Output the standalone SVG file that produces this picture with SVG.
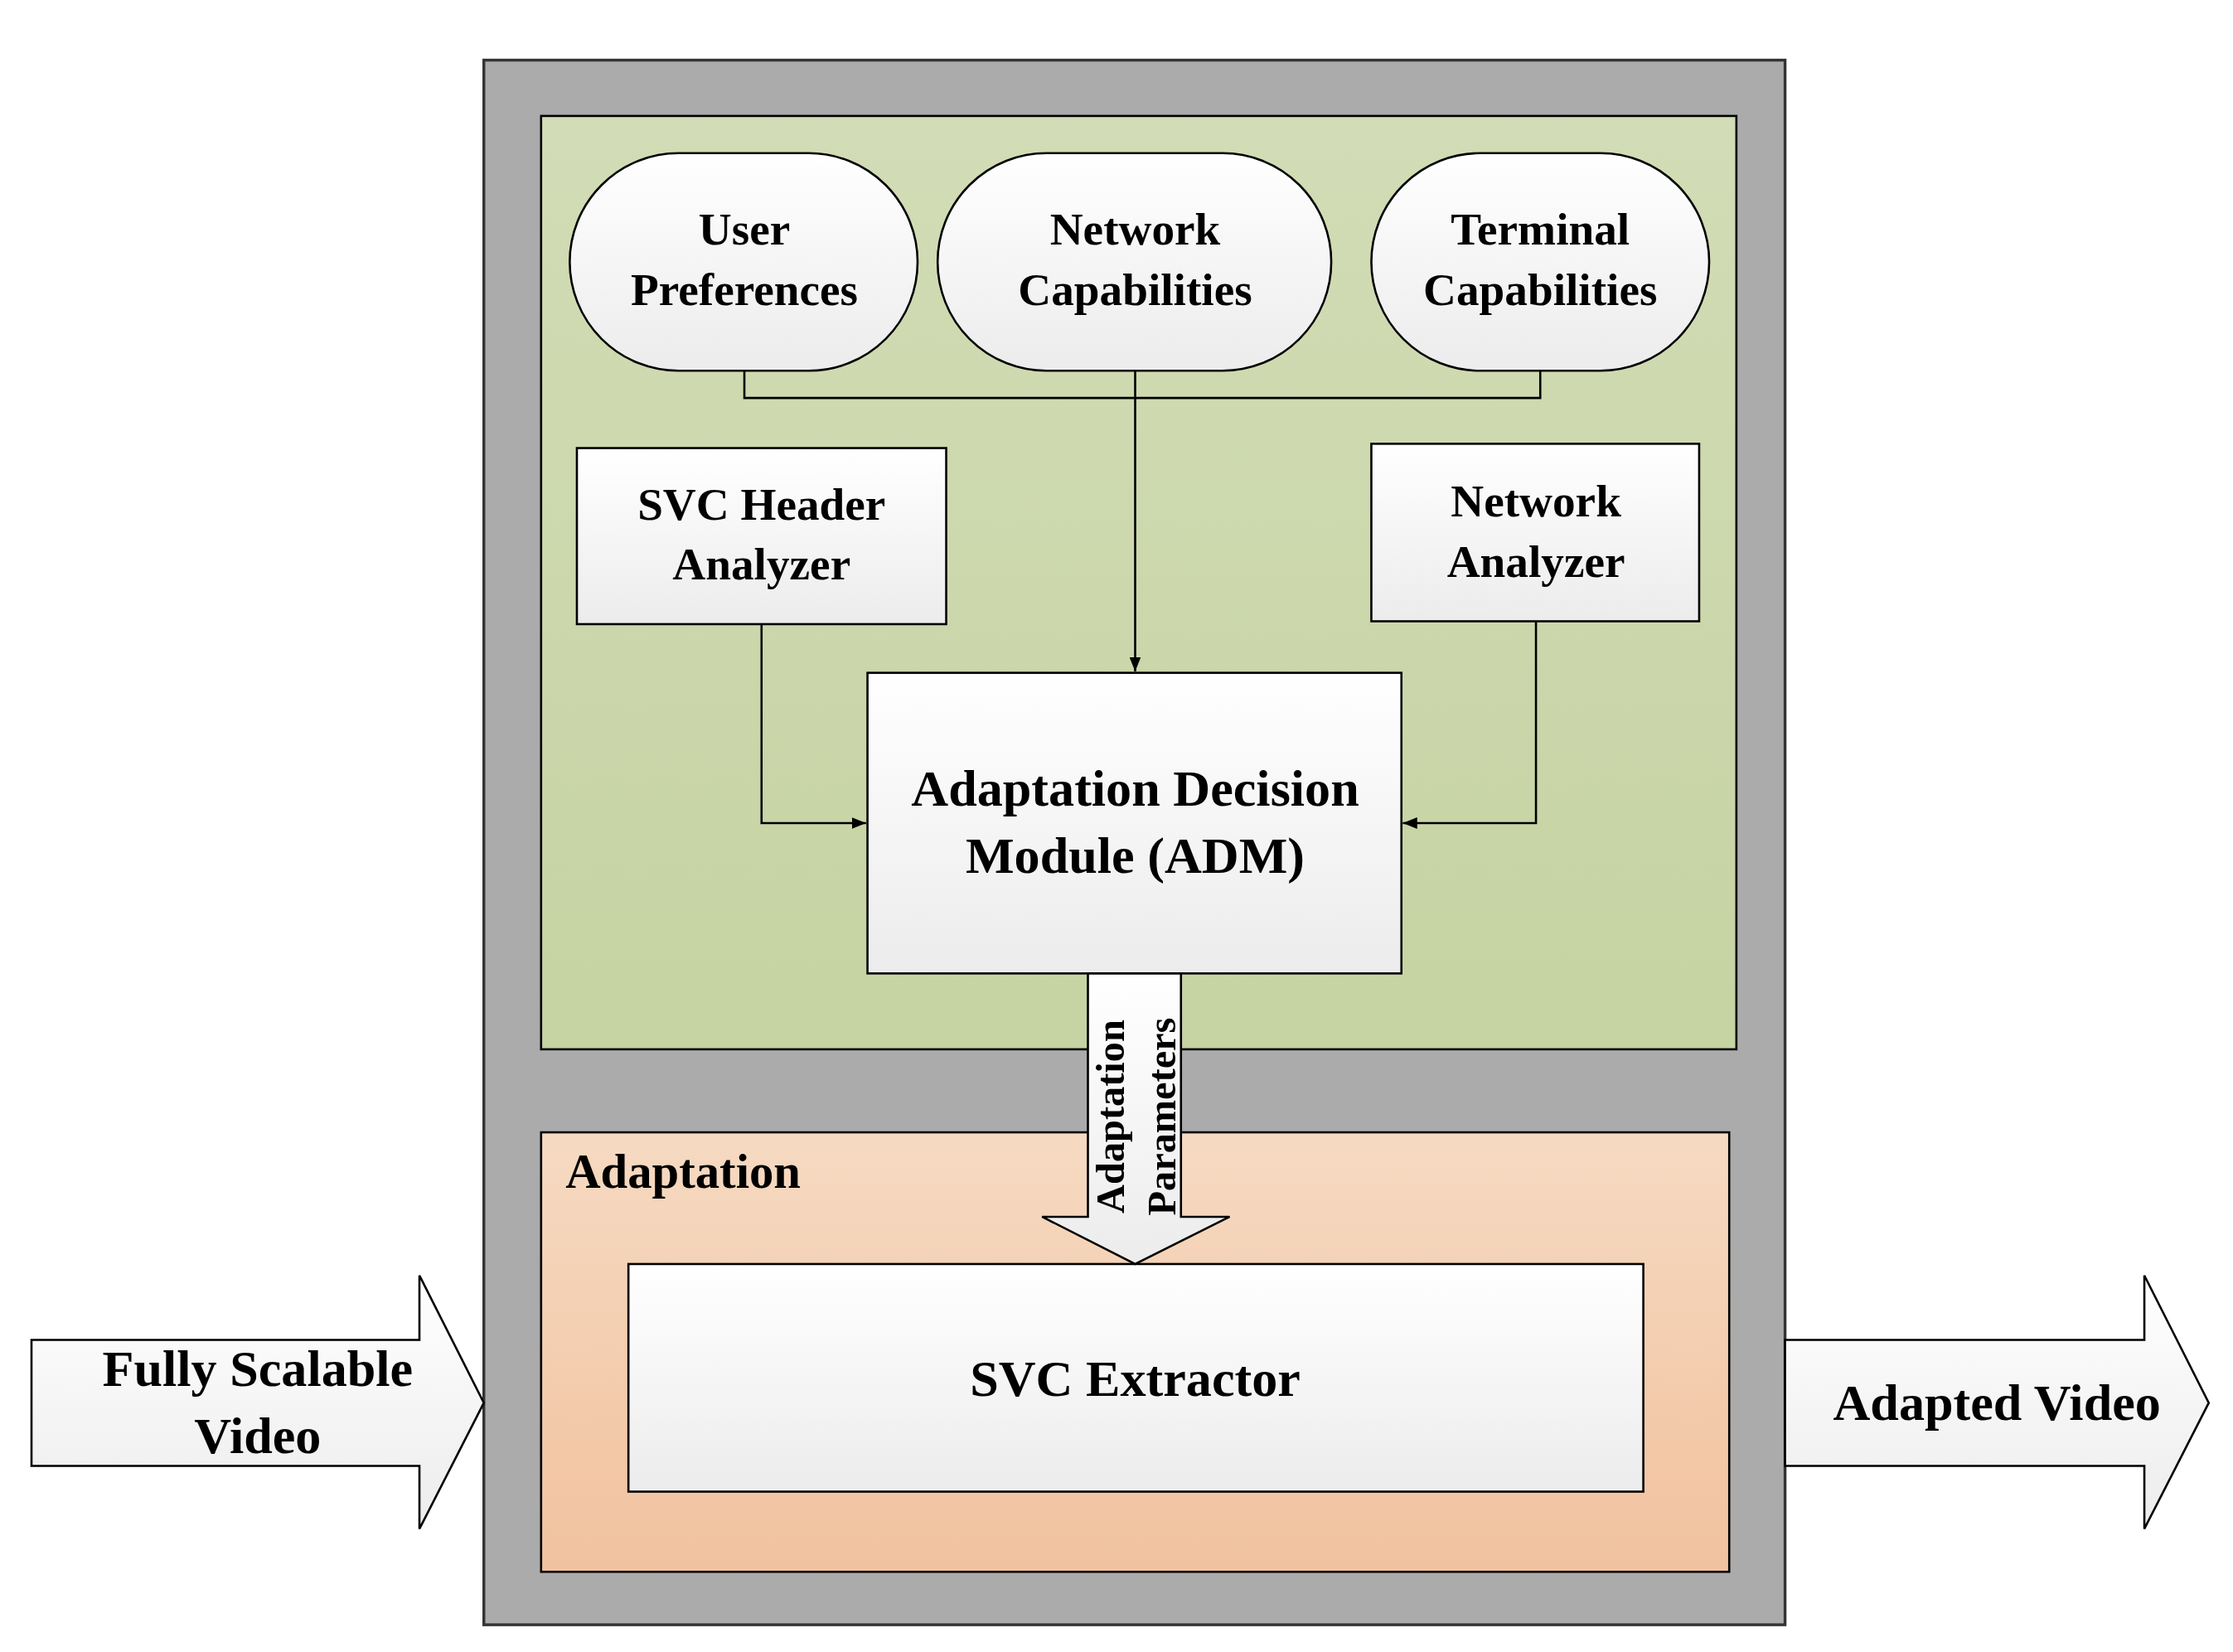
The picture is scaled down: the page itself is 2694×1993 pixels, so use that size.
<svg xmlns="http://www.w3.org/2000/svg" width="2694" height="1993" viewBox="0 0 2694 1993">
<defs>
<linearGradient id="wg" x1="0" y1="0" x2="0" y2="1"><stop offset="0" stop-color="#ffffff"/><stop offset="1" stop-color="#ececec"/></linearGradient>
<linearGradient id="gg" x1="0" y1="0" x2="0" y2="1"><stop offset="0" stop-color="#d2dcb6"/><stop offset="1" stop-color="#c6d3a2"/></linearGradient>
<linearGradient id="og" x1="0" y1="0" x2="0" y2="1"><stop offset="0" stop-color="#f6dac2"/><stop offset="1" stop-color="#f1c29e"/></linearGradient>
<marker id="ah" markerWidth="10" markerHeight="8" refX="10" refY="4" orient="auto" markerUnits="userSpaceOnUse"><path d="M0,0 L10,4 L0,8 Z" fill="#000"/></marker>
</defs>
<style>
.n{fill:url(#wg);stroke:#000;stroke-width:1.5}
.t{font-family:"Liberation Serif",serif;font-weight:bold;font-size:32px;text-anchor:middle;fill:#000}
.c{fill:none;stroke:#000;stroke-width:1.5}
</style>
<rect width="2694" height="1993" fill="#fff"/>
<g transform="scale(1.727)">
<g id="outer"><rect x="338" y="42" width="909" height="1093" fill="#ababab" stroke="#333" stroke-width="2"/></g>
<g id="green"><rect x="378" y="81" width="835" height="652" fill="url(#gg)" stroke="#000" stroke-width="1.5"/></g>
<g id="adaptation"><rect x="378" y="791" width="830" height="307" fill="url(#og)" stroke="#000" stroke-width="1.5"/>
<text x="395" y="830" class="t" style="text-anchor:start;font-size:34px">Adaptation</text></g>
<g id="user"><rect x="398" y="107" width="243" height="152" rx="76" class="n"/><text class="t" x="520" y="171">User</text><text class="t" x="520" y="213">Preferences</text></g>
<g id="netcap"><rect x="655" y="107" width="275" height="152" rx="76" class="n"/><text class="t" x="793" y="171">Network</text><text class="t" x="793" y="213">Capabilities</text></g>
<g id="termcap"><rect x="958" y="107" width="236" height="152" rx="76" class="n"/><text class="t" x="1076" y="171">Terminal</text><text class="t" x="1076" y="213">Capabilities</text></g>
<g id="svch"><rect x="403" y="313" width="258" height="123" class="n"/><text class="t" x="532" y="363">SVC Header</text><text class="t" x="532" y="405">Analyzer</text></g>
<g id="neta"><rect x="958" y="310" width="229" height="124" class="n"/><text class="t" x="1073" y="361">Network</text><text class="t" x="1073" y="403">Analyzer</text></g>
<g id="adm"><rect x="606" y="470" width="373" height="210" class="n"/><text class="t" x="793" y="563" style="font-size:36px">Adaptation Decision</text><text class="t" x="793" y="610" style="font-size:36px">Module (ADM)</text></g>
<g id="ext"><rect x="439" y="883" width="709" height="159" class="n"/><text class="t" x="793" y="975" style="font-size:36px">SVC Extractor</text></g>
<g id="connectors">
<path class="c" d="M520,259 V278 H1076 V259"/>
<path class="c" d="M793,259 V469" marker-end="url(#ah)"/>
<path class="c" d="M532,436 V575 H605" marker-end="url(#ah)"/>
<path class="c" d="M1073,434 V575 H980" marker-end="url(#ah)"/>
<path d="M760,680 H825 V850 H859 L793,883 L728,850 H760 Z" fill="url(#wg)" stroke="#000" stroke-width="1.5"/>
<text class="t" transform="translate(785,780) rotate(-90)" style="font-size:28px">Adaptation</text>
<text class="t" transform="translate(821,780) rotate(-90)" style="font-size:28px">Parameters</text>
</g>
<g id="inArrow"><path d="M22,936 H293 V891 L338,980 L293,1068 V1024 H22 Z" fill="url(#wg)" stroke="#000" stroke-width="1.5"/>
<text class="t" x="180" y="968" style="font-size:36px">Fully Scalable</text><text class="t" x="180" y="1015" style="font-size:36px">Video</text></g>
<g id="outArrow"><path d="M1247,936 H1498 V891 L1543,980 L1498,1068 V1024 H1247 Z" fill="url(#wg)" stroke="#000" stroke-width="1.5"/>
<text class="t" x="1395" y="992" style="font-size:36px">Adapted Video</text></g>
</g>
</svg>
